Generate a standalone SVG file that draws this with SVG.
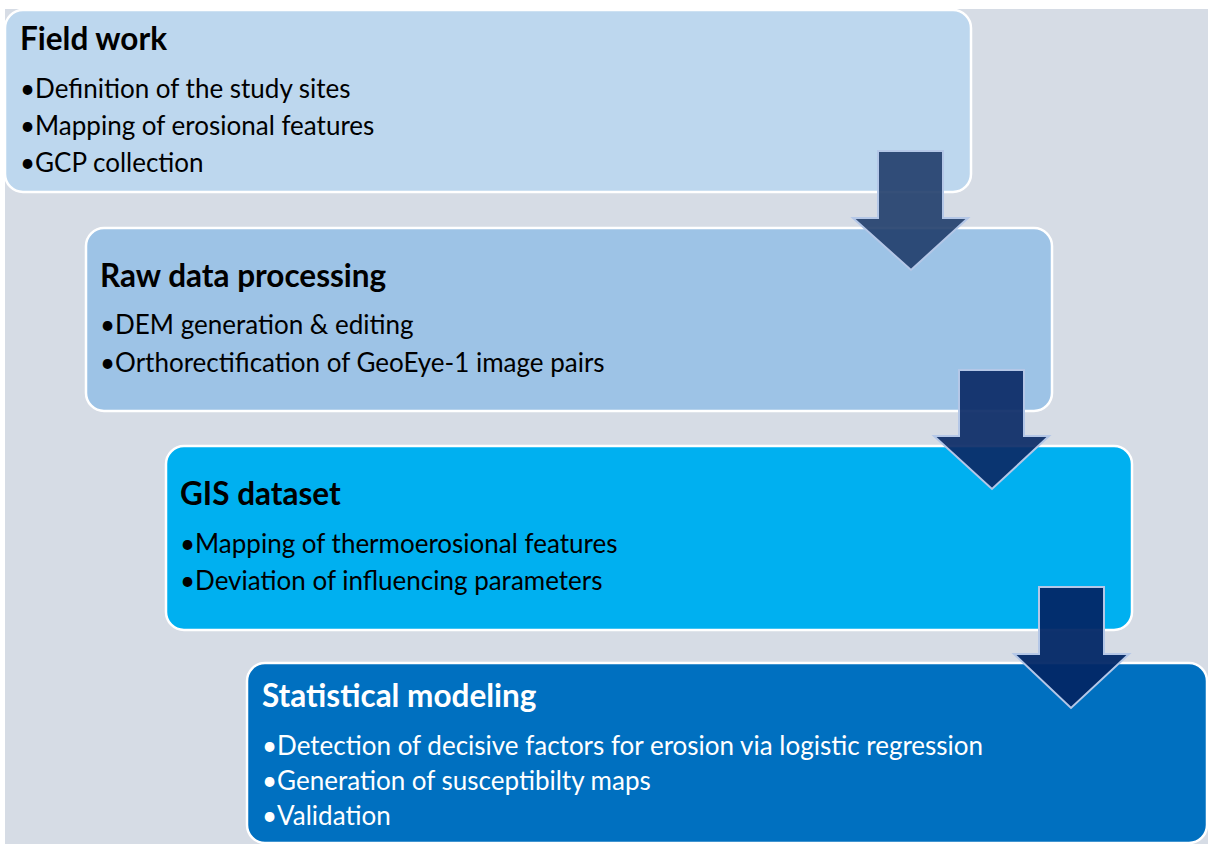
<svg xmlns="http://www.w3.org/2000/svg" width="1208" height="844" viewBox="0 0 1208 844">
<style>
.box{stroke:#ffffff;stroke-width:2.5}
.t{font-family:Lato,"Open Sans",sans-serif;font-weight:bold;font-size:31.5px;fill:#000}
.b{font-family:Lato,"Open Sans",sans-serif;font-size:26px;fill:#000}
.w{fill:#ffffff}
.arr{stroke:#b4c7e7;stroke-width:2;stroke-linejoin:miter}
</style>
<rect x="0" y="0" width="1208" height="844" fill="#ffffff"/>
<rect x="5" y="9" width="1203" height="835" fill="#d6dce5"/>
<g id="node-fieldwork">
<rect class="box" x="5" y="10" width="966" height="182" rx="18" fill="#bdd7ee"/>
<text class="t" x="20" y="50">Field work</text>
<text class="b" x="20" y="98">•Definition of the study sites</text>
<text class="b" x="20" y="135">•Mapping of erosional features</text>
<text class="b" x="20" y="172">•GCP collection</text>
</g>
<g id="node-raw">
<rect class="box" x="86" y="228" width="966" height="183" rx="18" fill="#9dc3e6"/>
<text class="t" x="100" y="287">Raw data processing</text>
<text class="b" x="100" y="334">•DEM generation &amp; editing</text>
<text class="b" x="100" y="372">•Orthorectification of GeoEye-1 image pairs</text>
</g>
<g id="node-gis">
<rect class="box" x="166" y="446" width="966" height="184" rx="18" fill="#00b0f0"/>
<text class="t" x="180" y="505">GIS dataset</text>
<text class="b" x="180" y="553">•Mapping of thermoerosional features</text>
<text class="b" x="180" y="590">•Deviation of influencing parameters</text>
</g>
<g id="node-stat">
<rect class="box" x="247" y="663" width="960" height="180" rx="18" fill="#0070c0"/>
<text class="t w" x="262" y="707">Statistical modeling</text>
<text class="b w" x="262" y="755">•Detection of decisive factors for erosion via logistic regression</text>
<text class="b w" x="262" y="790">•Generation of susceptibilty maps</text>
<text class="b w" x="262" y="825">•Validation</text>
</g>
<g id="connectors">
<polygon class="arr" points="878,151 943,151 943,218 968,218 911,270 853,218 878,218" fill="#203d6a" fill-opacity="0.9"/>
<polygon class="arr" points="959,370 1024,370 1024,436 1049,436 992,489 934,436 959,436" fill="#0b2a66" fill-opacity="0.92"/>
<polygon class="arr" points="1039,587 1104,587 1104,654 1129,654 1071,708 1014,654 1039,654" fill="#022766" fill-opacity="0.95"/>
</g>
</svg>
